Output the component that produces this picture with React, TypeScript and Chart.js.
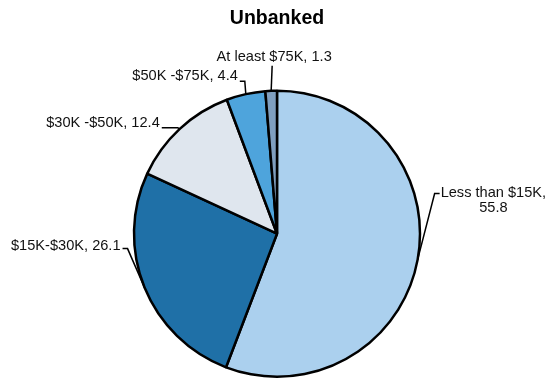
import React, { useEffect, useRef } from "react";
import { Chart, registerables } from "chart.js";

Chart.register(...registerables);

const categories = ["Less than $15K", "$15K-$30K", "$30K -$50K", "$50K -$75K", "At least $75K"];
const shares = [55.8, 26.1, 12.4, 4.4, 1.3];
const sliceColors = ["#abd0ee", "#1f70a7", "#dfe6ee", "#4ea4dc", "#7f9fbf"];

// leader line layout relative to the slice's mid-angle anchor on the rim
const leaderLayout = [
  { elbow: [17, -66], run: 5, align: "left", textDy: -1, multiline: true },
  { elbow: [-17, -39], run: -5, align: "right", textDy: -3, multiline: false },
  { elbow: [-2, -1], run: -16, align: "right", textDy: -5, multiline: false },
  { elbow: [-1, -13], run: -5, align: "right", textDy: -5, multiline: false },
  { elbow: [1, -25], run: 0, align: "center", textDy: -9, multiline: false },
];

const FONT = "'Liberation Sans', Arial, sans-serif";

const leaderLabels = {
  id: "leaderLabels",
  afterDatasetsDraw(chart: any) {
    const ctx = chart.ctx;
    const meta = chart.getDatasetMeta(0);
    ctx.save();
    ctx.font = `14.6px ${FONT}`;
    ctx.fillStyle = "#111";
    ctx.strokeStyle = "#000";
    ctx.lineWidth = 1.5;
    meta.data.forEach((arc: any, i: number) => {
      const p = arc.getProps(["x", "y", "startAngle", "endAngle", "outerRadius"], true);
      const mid = (p.startAngle + p.endAngle) / 2;
      const ax = p.x + Math.cos(mid) * p.outerRadius;
      const ay = p.y + Math.sin(mid) * p.outerRadius;
      const L = leaderLayout[i];
      const ex = ax + L.elbow[0];
      const ey = ay + L.elbow[1];
      const tx = ex + L.run;
      ctx.beginPath();
      ctx.moveTo(ax, ay);
      ctx.lineTo(ex, ey);
      ctx.lineTo(tx, ey);
      ctx.stroke();
      ctx.textBaseline = "middle";
      const value = shares[i].toFixed(1);
      if (L.multiline) {
        const l1 = `${categories[i]},`;
        const w = Math.max(ctx.measureText(l1).width, ctx.measureText(value).width);
        const cx = tx + 1 + w / 2;
        ctx.textAlign = "center";
        ctx.fillText(l1, cx, ey + L.textDy);
        ctx.fillText(value, cx, ey + L.textDy + 15);
      } else {
        const label = `${categories[i]}, ${value}`;
        ctx.textAlign = L.align;
        const off = L.align === "right" ? -2 : 2;
        ctx.fillText(label, tx + off, ey + L.textDy);
      }
    });
    ctx.restore();
  },
};

export default function App() {
  const ref = useRef<HTMLCanvasElement>(null);
  useEffect(() => {
    document.body.style.margin = "0";
    const chart = new Chart(ref.current!, {
      type: "pie",
      data: {
        labels: categories,
        datasets: [
          {
            data: shares,
            backgroundColor: sliceColors,
            borderColor: "#000",
            borderWidth: 2.5,
            radius: 143,
          },
        ],
      },
      options: {
        responsive: false,
        animation: false,
        layout: { padding: { left: 4, right: 0, top: 0, bottom: 0 } },
        plugins: {
          legend: { display: false },
          tooltip: { enabled: false },
          title: {
            display: true,
            text: "Unbanked",
            color: "#000",
            font: { family: FONT, size: 19.5, weight: "bold" },
            padding: { top: 7, bottom: 54 },
          },
        },
      },
      plugins: [leaderLabels],
    });
    return () => chart.destroy();
  }, []);
  return (
    <div style={{ width: 550, height: 383 }}>
      <canvas ref={ref} width={550} height={383} style={{ display: "block" }} />
    </div>
  );
}
